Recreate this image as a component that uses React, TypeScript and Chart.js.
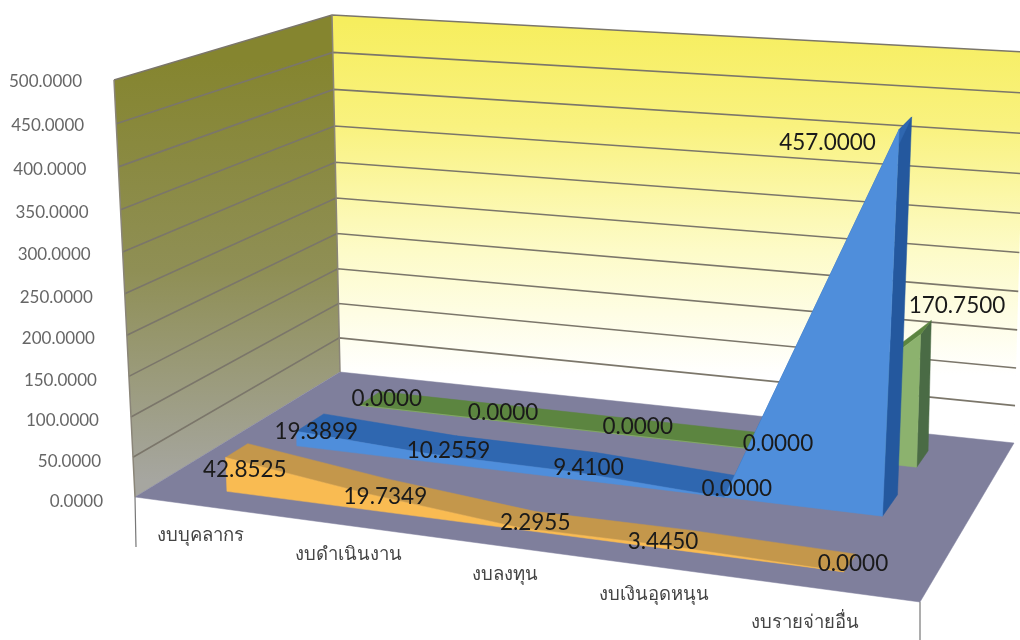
import React, { useEffect, useRef } from "react";
import { Chart, LineController, registerables } from "chart.js";

const categories = ["งบบุคลากร", "งบดำเนินงาน", "งบลงทุน", "งบเงินอุดหนุน", "งบรายจ่ายอื่น"];
const seriesOrange = [42.8525, 19.7349, 2.2955, 3.445, 0];
const seriesBlue = [19.3899, 10.2559, 9.41, 0, 457];
const seriesGreen = [0, 0, 0, 0, 170.75];

type Pt = [number, number];

function homography(p0: Pt, p1: Pt, p2: Pt, p3: Pt) {
  const sx = p0[0] - p1[0] + p2[0] - p3[0];
  const sy = p0[1] - p1[1] + p2[1] - p3[1];
  const dx1 = p1[0] - p2[0], dx2 = p3[0] - p2[0], dy1 = p1[1] - p2[1], dy2 = p3[1] - p2[1];
  const det = dx1 * dy2 - dx2 * dy1;
  const g = (sx * dy2 - dx2 * sy) / det;
  const h = (dx1 * sy - sx * dy1) / det;
  const a = p1[0] - p0[0] + g * p1[0], b = p3[0] - p0[0] + h * p3[0], c = p0[0];
  const d = p1[1] - p0[1] + g * p1[1], e = p3[1] - p0[1] + h * p3[1], f = p0[1];
  return (u: number, v: number): Pt => {
    const w = g * u + h * v + 1;
    return [(a * u + b * v + c) / w, (d * u + e * v + f) / w];
  };
}

const floorH = homography([135, 497], [920, 602], [1014, 443], [340, 372]);
const topH = homography([114, 80], [956, 140], [1025, 52], [332, 15]);
const R = 0.95;
function project(u: number, d: number, h: number): Pt {
  const b = floorH(u, d), t = topH(u, d);
  const w = 1 - h + h * R;
  return [(b[0] * (1 - h) + t[0] * h * R) / w, (b[1] * (1 - h) + t[1] * h * R) / w];
}

function poly(ctx: CanvasRenderingContext2D, pts: Pt[], fill: string) {
  ctx.beginPath();
  pts.forEach((p, i) => (i ? ctx.lineTo(p[0], p[1]) : ctx.moveTo(p[0], p[1])));
  ctx.closePath();
  ctx.fillStyle = fill;
  ctx.fill();
  ctx.strokeStyle = fill;
  ctx.lineWidth = 0.5;
  ctx.stroke();
}

function norm(chart: any, x: number, y: number) {
  const xs = chart.scales.x, ys = chart.scales.y;
  return [(x - xs.left) / (xs.right - xs.left), (ys.bottom - y) / (ys.bottom - ys.top)];
}

class Area3DController extends LineController {
  static id = "area3d";
  static defaults = LineController.defaults;
  draw() {
    const chart: any = this.chart;
    const ctx = chart.ctx;
    const meta: any = this.getMeta();
    const ds: any = this.getDataset();
    const [d0, d1] = ds.depth;
    const pts = meta.data.map((el: any) => norm(chart, el.x, el.y));
    const frontTop: Pt[] = pts.map((p: number[]) => project(p[0], d0, p[1]));
    const backTop: Pt[] = pts.map((p: number[]) => project(p[0], d1, p[1]));
    const frontBase: Pt[] = pts.map((p: number[]) => project(p[0], d0, 0));
    const backBase: Pt[] = pts.map((p: number[]) => project(p[0], d1, 0));
    const n = pts.length - 1;
    ctx.save();
    poly(ctx, [frontBase[n], backBase[n], backTop[n], frontTop[n]], ds.sideColor);
    for (let i = 0; i < n; i++) {
      poly(ctx, [frontTop[i], frontTop[i + 1], backTop[i + 1], backTop[i]], ds.topColor);
    }
    poly(ctx, [...frontTop, ...[...frontBase].reverse()], ds.backgroundColor);
    ctx.restore();
  }
}

const GRID = "#7b766a";
const labelNudge: Record<string, Pt[]> = {
  "0": [[8, 19], [7, 10], [8, 3], [-21, 3], [3, 1]],
  "1": [[6, 9], [4, 6], [3, 6], [3, 2], [-78, 20]],
  "2": [[17, 0], [5, 0], [5, 0], [4, 1], [31, -22]],
};
const categoryNudge: Pt[] = [[-4, 29], [1, 29], [5, 29], [-7, 27], [-26, 33]];

const wallsPlugin = {
  id: "walls",
  beforeDatasetsDraw(chart: any) {
    const ctx = chart.ctx;
    const ys = chart.scales.y;
    const toH = (v: number) => norm(chart, 0, ys.getPixelForValue(v))[1];
    ctx.save();
    // back wall
    const bg = ctx.createLinearGradient(0, 20, 0, 375);
    bg.addColorStop(0, "#f6ee5e");
    bg.addColorStop(0.3, "#f9f27f");
    bg.addColorStop(0.65, "#fdfbc8");
    bg.addColorStop(1, "#ffffff");
    poly(ctx, [project(0, 1, 0), project(1, 1, 0), project(1, 1, 1), project(0, 1, 1)], "#fff");
    ctx.fillStyle = bg;
    ctx.fill();
    // left wall
    const lg = ctx.createLinearGradient(0, 60, 0, 480);
    lg.addColorStop(0, "#85852f");
    lg.addColorStop(0.5, "#8f8f55");
    lg.addColorStop(1, "#a6a6a0");
    const lw = [project(0, 0, 0), project(0, 1, 0), project(0, 1, 1), project(0, 0, 1)];
    ctx.beginPath();
    lw.forEach((p, i) => (i ? ctx.lineTo(p[0], p[1]) : ctx.moveTo(p[0], p[1])));
    ctx.closePath();
    ctx.fillStyle = lg;
    ctx.fill();
    // floor
    poly(ctx, [project(0, 0, 0), project(1, 0, 0), project(1, 1, 0), project(0, 1, 0)], "#7f7f9c");
    // gridlines
    ctx.strokeStyle = GRID;
    ctx.lineWidth = 1.6;
    ys.ticks.forEach((t: any) => {
      if (t.value === 0) return;
      const h = toH(t.value);
      const a = project(0, 0, h), b = project(0, 1, h), c = project(1, 1, h);
      ctx.beginPath();
      ctx.moveTo(a[0], a[1]);
      ctx.lineTo(b[0], b[1]);
      ctx.lineTo(c[0], c[1]);
      ctx.stroke();
    });
    // edges
    ctx.strokeStyle = "#8a8578";
    ctx.lineWidth = 1.5;
    ctx.beginPath();
    const e0 = project(0, 0, 0), e1 = project(0, 0, 1), e2 = project(0, 1, 0), e3 = project(0, 1, 1);
    ctx.moveTo(e0[0], e0[1]);
    ctx.lineTo(e1[0], e1[1]);
    ctx.moveTo(e2[0], e2[1]);
    ctx.lineTo(e3[0], e3[1]);
    ctx.stroke();
    // axis drop lines
    const f0 = project(0, 0, 0), f1 = project(1, 0, 0);
    ctx.strokeStyle = "#777";
    ctx.lineWidth = 1.2;
    ctx.beginPath();
    ctx.moveTo(f0[0], f0[1]);
    ctx.lineTo(f0[0] + 1, f0[1] + 50);
    ctx.moveTo(f1[0], f1[1]);
    ctx.lineTo(f1[0], f1[1] + 40);
    ctx.stroke();
    ctx.restore();
  },
  afterDatasetsDraw(chart: any) {
    const ctx = chart.ctx;
    const xs = chart.scales.x, ys = chart.scales.y;
    ctx.save();
    ctx.textBaseline = "middle";
    // value axis labels
    ctx.font = '17px Lato, "Noto Sans"';
    ctx.fillStyle = "#666";
    ctx.textAlign = "right";
    ys.ticks.forEach((t: any) => {
      const h = norm(chart, 0, ys.getPixelForValue(t.value))[1];
      const p = project(0, 0, h);
      ctx.fillText(Number(t.value).toFixed(4), p[0] - 32, p[1] + 2 + 2.5 * (1 - h));
    });
    // category labels
    ctx.font = '18.5px "Noto Sans", Lato';
    ctx.fillStyle = "#444";
    ctx.textAlign = "center";
    categories.forEach((c, i) => {
      const u = norm(chart, xs.getPixelForValue(i), 0)[0];
      const p = project(u, 0, 0);
      ctx.fillText(c, p[0] + categoryNudge[i][0], p[1] + categoryNudge[i][1]);
    });
    // value labels
    ctx.font = '22.5px Lato, "Noto Sans"';
    ctx.fillStyle = "#1a1a1a";
    chart.data.datasets.forEach((ds: any, di: number) => {
      const meta = chart.getDatasetMeta(di);
      meta.data.forEach((el: any, i: number) => {
        const [u, h] = norm(chart, el.x, el.y);
        const p = project(u, (ds.depth[0] + ds.depth[1]) / 2, h);
        const nudge = labelNudge[String(di)][i];
        ctx.fillText(Number(ds.data[i]).toFixed(4), p[0] + nudge[0], p[1] + nudge[1]);
      });
    });
    ctx.restore();
  },
};

Chart.register(...registerables, Area3DController);

export default function App() {
  const ref = useRef<HTMLCanvasElement | null>(null);
  useEffect(() => {
    const chart = new Chart(ref.current as HTMLCanvasElement, {
      type: "area3d" as any,
      data: {
        labels: categories,
        datasets: [
          { label: "orange", data: seriesOrange, backgroundColor: "#f9bb52", topColor: "#c4974b", sideColor: "#b8893f", depth: [0.1, 0.2], clip: false, pointRadius: 0 },
          { label: "blue", data: seriesBlue, backgroundColor: "#4f8edb", topColor: "#2f67b0", sideColor: "#24589e", depth: [0.43, 0.57], clip: false, pointRadius: 0 },
          { label: "green", data: seriesGreen, backgroundColor: "#8cb26e", topColor: "#5c8540", sideColor: "#4a6b45", depth: [0.76, 0.88], clip: false, pointRadius: 0 },
        ] as any,
      },
      options: {
        animation: false,
        responsive: false,
        devicePixelRatio: 1,
        layout: { padding: 0 },
        plugins: { legend: { display: false }, tooltip: { enabled: false } },
        scales: {
          x: { type: "category", offset: true, display: false },
          y: { type: "linear", min: 0, max: 500, ticks: { stepSize: 50 }, display: false },
        },
      } as any,
      plugins: [wallsPlugin],
    });
    return () => chart.destroy();
  }, []);
  return (
    <div style={{ position: "fixed", left: 0, top: 0, width: 1020, height: 640, background: "#fff" }}>
      <canvas ref={ref} width={1020} height={640} style={{ display: "block" }} />
    </div>
  );
}
